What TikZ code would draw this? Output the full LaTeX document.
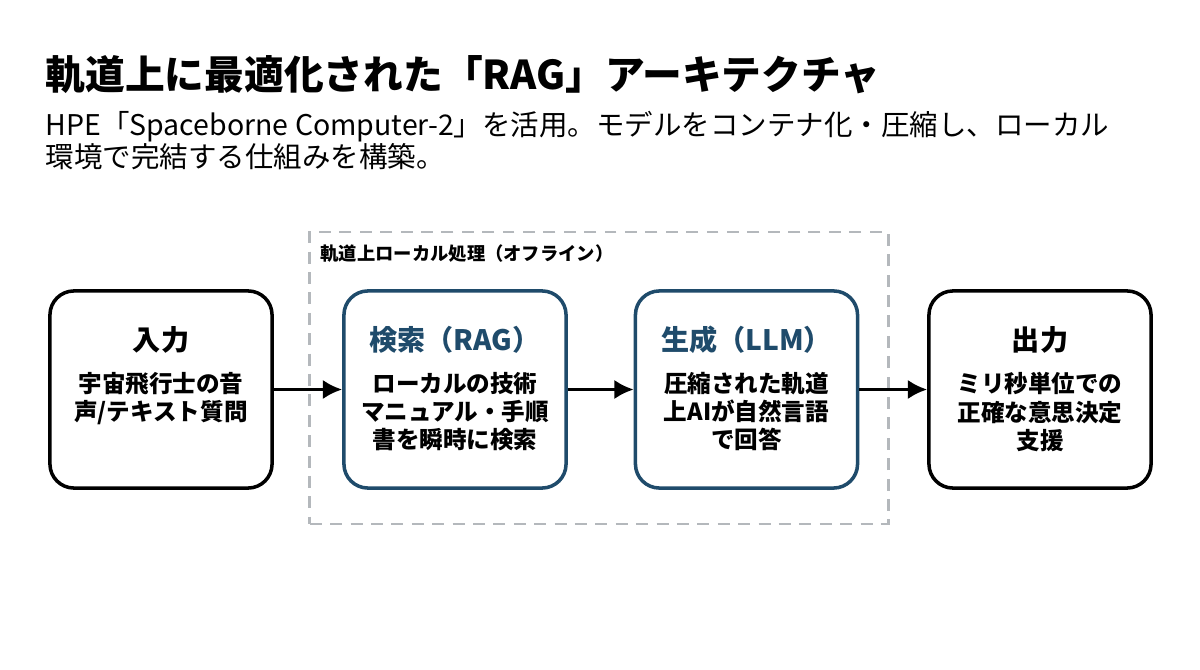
\documentclass[tikz,border=0pt]{standalone}
\usepackage{fontspec}
\setmainfont{Noto Sans CJK JP}
\usetikzlibrary{positioning}
\usetikzlibrary{arrows.meta}
\definecolor{orbitblue}{HTML}{1F4B6B}
\definecolor{zonegray}{HTML}{B4B8BC}

\begin{document}
\begin{tikzpicture}[
        x=0.01cm, y=-0.01cm,
        stage/.style={rectangle, rounded corners=0.24cm, draw=black, line width=1pt, minimum width=2.22cm, minimum height=1.97cm},
        core/.style={stage, draw=orbitblue},
        heading/.style={inner sep=0pt, font=\fontsize{8pt}{9pt}\selectfont\bfseries},
        detail/.style={anchor=north, align=center, inner sep=0pt, font=\fontsize{6.7pt}{7.97pt}\selectfont\bfseries},
        zone/.style={rectangle, draw=zonegray, line width=0.8pt, dash pattern=on 3.4pt off 2.4pt, minimum width=5.78cm, minimum height=2.92cm},
        flow/.style={-{Latex[length=5.5pt,width=5.5pt]}, line width=0.9pt}
    ]
    \fill[white] (0,0) rectangle (1200,670);
    \useasboundingbox (0,0) rectangle (1200,670);

    % Title
    \node[anchor=west, inner sep=0pt, font=\fontsize{11.3pt}{13pt}\selectfont\bfseries] at (45,75) (title) {軌道上に最適化された「RAG」アーキテクチャ};

    % Subtitle
    \node[anchor=north west, inner sep=0pt, align=left, font=\fontsize{8.1pt}{9.1pt}\selectfont] at (45,111) (subtitle) {HPE「Spaceborne Computer-2」を活用。モデルをコンテナ化・圧縮し、ローカル\\環境で完結する仕組みを構築。};

    % Offline zone
    \node[zone] at (599,378) (zone) {};
    \node[anchor=west, inner sep=0pt, font=\fontsize{5.2pt}{6pt}\selectfont\bfseries] at (320,254) (zonelabel) {軌道上ローカル処理（オフライン）};

    % Stages
    \node[stage] at (161,389.5) (input) {};
    \node[core] at (455,389.5) (rag) {};
    \node[core] at (746.5,389.5) (llm) {};
    \node[stage] at (1040,389.5) (output) {};

    % Headings
    \node[heading] at (161,340) (inputhead) {入力};
    \node[heading, text=orbitblue] at (455,340) (raghead) {検索（RAG）};
    \node[heading, text=orbitblue] at (746.5,340) (llmhead) {生成（LLM）};
    \node[heading] at (1040,340) (outputhead) {出力};

    % Details
    \node[detail] at (161,372) (inputtext) {宇宙飛行士の音\\声/テキスト質問};
    \node[detail] at (455,372) (ragtext) {ローカルの技術\\マニュアル・手順\\書を瞬時に検索};
    \node[detail] at (746.5,372) (llmtext) {圧縮された軌道\\上AIが自然言語\\で回答};
    \node[detail] at (1040,372) (outputtext) {ミリ秒単位での\\正確な意思決定\\支援};

    % Arrows
    \draw[flow] (input) -- (rag);
    \draw[flow] (rag) -- (llm);
    \draw[flow] (llm) -- (output);

\end{tikzpicture}
\end{document}
